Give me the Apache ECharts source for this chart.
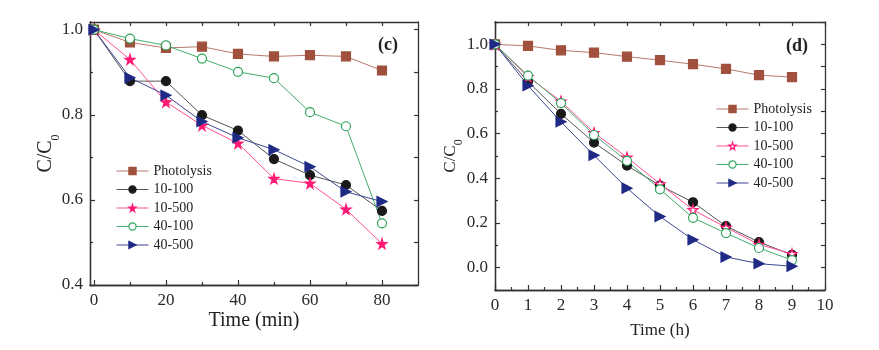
<!DOCTYPE html>
<html>
<head>
<meta charset="utf-8">
<script src="https://cdn.jsdelivr.net/npm/echarts@6/dist/echarts.min.js"></script>
<style>
  html, body { margin: 0; padding: 0; background: #fff; }
  #chart { width: 879px; height: 350px; }
</style>
</head>
<body>
<div id="chart"></div>
<script>
// panel (c): time in minutes
const timeMin = [0, 10, 20, 30, 40, 50, 60, 70, 80];
const cPhotolysis = [1.0, 0.970, 0.957, 0.960, 0.943, 0.937, 0.940, 0.937, 0.904];
const c10_100 = [1.0, 0.879, 0.879, 0.799, 0.763, 0.696, 0.658, 0.635, 0.574];
const c10_500 = [1.0, 0.930, 0.830, 0.775, 0.733, 0.650, 0.639, 0.578, 0.497];
const c40_100 = [1.0, 0.979, 0.963, 0.932, 0.901, 0.886, 0.806, 0.773, 0.545];
const c40_500 = [1.0, 0.887, 0.846, 0.784, 0.746, 0.718, 0.678, 0.619, 0.596];

// panel (d): time in hours
const timeH = [0, 1, 2, 3, 4, 5, 6, 7, 8, 9];
const dPhotolysis = [1.0, 0.993, 0.973, 0.963, 0.945, 0.929, 0.911, 0.890, 0.862, 0.853];
const d10_100 = [1.0, 0.833, 0.689, 0.560, 0.457, 0.368, 0.293, 0.186, 0.115, 0.057];
const d10_500 = [1.0, 0.855, 0.745, 0.604, 0.494, 0.375, 0.259, 0.180, 0.104, 0.062];
const d40_100 = [1.0, 0.860, 0.737, 0.594, 0.478, 0.351, 0.223, 0.155, 0.088, 0.034];
const d40_500 = [1.0, 0.815, 0.653, 0.503, 0.356, 0.229, 0.125, 0.048, 0.018, 0.006];

// ticks
const cXMajor = [0, 20, 40, 60, 80];
const cXMinor = [10, 30, 50, 70];
const cXTop = [0, 10, 20, 30, 40, 50, 60, 70, 80];
const cYMajor = [0.4, 0.6, 0.8, 1.0];
const cYMinor = [0.5, 0.7, 0.9];
const dXMajor = [0, 1, 2, 3, 4, 5, 6, 7, 8, 9, 10];
const dXMinor = [0.5, 1.5, 2.5, 3.5, 4.5, 5.5, 6.5, 7.5, 8.5, 9.5];
const dYMajor = [0.0, 0.2, 0.4, 0.6, 0.8, 1.0];
const dYMinor = [-0.1, 0.1, 0.3, 0.5, 0.7, 0.9, 1.1];

const names = ['Photolysis', '10-100', '10-500', '40-100', '40-500'];

const font = 'Liberation Serif';
const frame = '#333';
const star = 'path://M50,0 L61,35 L98,35 L68,57 L79,91 L50,70 L21,91 L32,57 L2,35 L39,35 Z';
const triRight = 'path://M0,0 L10,5 L0,10 Z';

function axis(grid, pos, min, max, ticks, len, showLabel, decimals) {
    return {
        type: 'value',
        gridIndex: grid,
        position: pos,
        min: min,
        max: max,
        axisLine: { show: true, onZero: false, lineStyle: { color: frame, width: 1.3 } },
        axisTick: { show: true, inside: true, length: len, customValues: ticks, lineStyle: { color: frame, width: 1.2 } },
        axisLabel: {
            show: showLabel,
            customValues: ticks,
            color: '#2a2a2a',
            fontFamily: font,
            fontSize: 17,
            margin: 7,
            formatter: v => v.toFixed(decimals)
        },
        splitLine: { show: false }
    };
}

const nameRich = { sub: { fontFamily: font, fontSize: 12, verticalAlign: 'bottom', padding: [0, 0, -6, 0], color: '#222' } };

const xAxes = [
    Object.assign(axis(0, 'bottom', -1.1, 90, cXMajor, 5, true, 0), {
        name: 'Time (min)', nameLocation: 'middle', nameGap: 26, nameMoveOverlap: false,
        nameTextStyle: { fontFamily: font, fontSize: 20, color: '#222' }
    }),
    axis(0, 'bottom', -1.1, 90, cXMinor, 3, false, 0),
    axis(0, 'top', -1.1, 90, cXTop, 4, false, 0),
    Object.assign(axis(1, 'bottom', 0, 10, dXMajor, 5, true, 0), {
        name: 'Time (h)', nameLocation: 'middle', nameGap: 32, nameMoveOverlap: false,
        nameTextStyle: { fontFamily: font, fontSize: 17, color: '#222' }
    }),
    axis(1, 'bottom', 0, 10, dXMinor, 3, false, 0),
    axis(1, 'top', 0, 10, dXMajor, 4, false, 0)
];

const yAxes = [
    Object.assign(axis(0, 'left', 0.4, 1.018, cYMajor, 5, true, 1), {
        name: 'C/C{sub|0}', nameLocation: 'middle', nameGap: 34, nameRotate: 90, nameMoveOverlap: false,
        nameTextStyle: { fontFamily: font, fontSize: 20, color: '#222', rich: nameRich }
    }),
    axis(0, 'left', 0.4, 1.018, cYMinor, 3, false, 1),
    axis(0, 'right', 0.4, 1.018, cYMajor.concat(cYMinor), 4, false, 1),
    Object.assign(axis(1, 'left', -0.1, 1.1, dYMajor, 5, true, 1), {
        name: 'C/C{sub|0}', nameLocation: 'middle', nameGap: 36, nameRotate: 90, nameMoveOverlap: false,
        nameTextStyle: { fontFamily: font, fontSize: 17, color: '#222', rich: nameRich }
    }),
    axis(1, 'left', -0.1, 1.1, dYMinor, 3, false, 1),
    axis(1, 'right', -0.1, 1.1, dYMajor.concat(dYMinor), 4, false, 1)
];

const styles = [
    { symbol: 'rect', size: 9, color: '#a0503c', line: '#b87a6c', fill: '#a0503c' },
    { symbol: 'circle', size: 9, color: '#1a1a1a', line: '#555555', fill: '#1a1a1a' },
    { symbol: star, size: 10, color: '#ff1a75', line: '#ff4f93', fill: '#ff1a75' },
    { symbol: 'circle', size: 9, color: '#2ea55a', line: '#45ad6a', fill: '#ffffff' },
    { symbol: triRight, size: 10, color: '#1f2a85', line: '#3d4796', fill: '#1f2a85' }
];

function makeSeries(xs, ys, k, axisIdx, fillOverride) {
    const s = styles[k];
    return {
        name: names[k],
        type: 'line',
        xAxisIndex: axisIdx,
        yAxisIndex: axisIdx,
        data: xs.map((x, i) => [x, ys[i]]),
        symbol: s.symbol,
        symbolSize: s.size,
        showAllSymbol: true,
        lineStyle: { color: s.line, width: 1 },
        itemStyle: { color: fillOverride || s.fill, borderColor: s.color, borderWidth: 1.2 },
        emphasis: { disabled: true },
        animation: false
    };
}

const cData = [cPhotolysis, c10_100, c10_500, c40_100, c40_500];
const dData = [dPhotolysis, d10_100, d10_500, d40_100, d40_500];

const series = [];
cData.forEach((arr, k) => series.push(makeSeries(timeMin, arr, k, 0)));
dData.forEach((arr, k) => series.push(makeSeries(timeH, arr, k, 3, k === 2 ? '#ffffff' : null)));

function legendData(hollowStar) {
    return names.map((n, k) => {
        const s = styles[k];
        let fill = s.fill;
        if (k === 2 && hollowStar) fill = '#ffffff';
        return {
            name: n,
            itemStyle: { color: fill, borderColor: s.color, borderWidth: 1.2 },
            lineStyle: { color: s.line, width: 1 }
        };
    });
}

const legendBase = {
    orient: 'vertical',
    itemWidth: 32,
    itemHeight: 9,
    itemGap: 4.5,
    selectedMode: false,
    textStyle: { fontFamily: font, fontSize: 14, color: '#222' },
    padding: 0
};

const chart = echarts.init(document.getElementById('chart'));
chart.setOption({
    backgroundColor: '#fff',
    animation: false,
    textStyle: { fontFamily: font },
    grid: [
        { left: 90, top: 22, width: 328, height: 263 },
        { left: 495, top: 22, width: 330, height: 268 }
    ],
    xAxis: xAxes,
    yAxis: yAxes,
    legend: [
        Object.assign({}, legendBase, { left: 116, top: 164, data: legendData(false) }),
        Object.assign({}, legendBase, { left: 716, top: 102, data: legendData(true) })
    ],
    graphic: [
        { type: 'text', left: 378, top: 36, style: { text: '(c)', font: 'bold 18px "Liberation Serif"', fill: '#222' } },
        { type: 'text', left: 786, top: 37, style: { text: '(d)', font: 'bold 18px "Liberation Serif"', fill: '#222' } }
    ],
    series: series
});
</script>
</body>
</html>
